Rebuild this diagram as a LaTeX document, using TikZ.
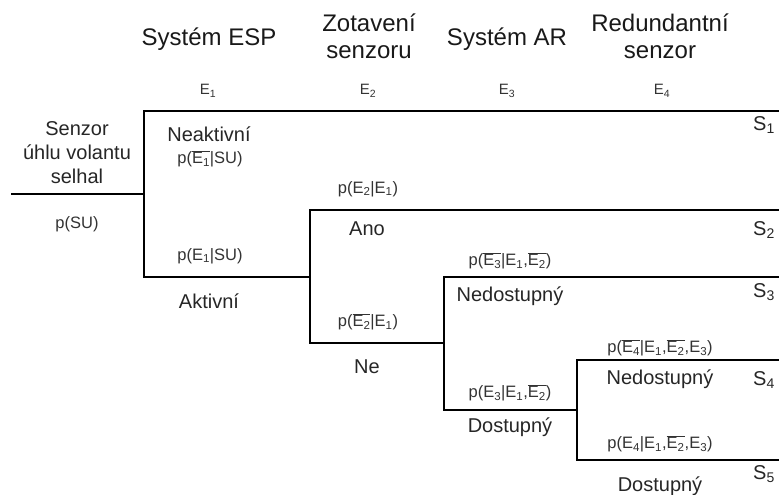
\documentclass[tikz,border=0pt]{standalone}
\usepackage{fontspec}
\setmainfont{Liberation Sans}
\newcommand\hdrf{\fontsize{24}{27}\selectfont}
\newcommand\bdyf{\fontsize{20}{24}\selectfont}
\newcommand\prbf{\fontsize{16.5}{20}\selectfont}
\newcommand\elbf{\fontsize{15}{18}\selectfont}
\newcommand\ovl[1]{\ensuremath{\overline{\hbox{#1}}}}
\newcommand\sub[1]{\textsubscript{#1}}
\begin{document}
\begin{tikzpicture}[x=1pt,y=-1pt,
  branch/.style={line width=1.3pt,line join=miter},
  hdr/.style={inner sep=0pt,align=center,font=\hdrf,text=black!90},
  bdy/.style={inner sep=0pt,align=center,font=\bdyf,text=black!85},
  prb/.style={inner sep=0pt,font=\prbf,text=black!80},
  elb/.style={inner sep=0pt,font=\elbf,text=black!80},
  send/.style={inner sep=0pt,font=\bdyf,text=black!85}]
\useasboundingbox (0,0) rectangle (779,495);
% tree coordinates
\coordinate (s0) at (11,194);
\coordinate (j1) at (144,194);
\coordinate (j1t) at (144,111);
\coordinate (j1b) at (144,277);
\coordinate (j2t) at (310,210);
\coordinate (j2b) at (310,343);
\coordinate (j3t) at (444,277);
\coordinate (j3b) at (444,410);
\coordinate (j4t) at (577,360);
\coordinate (j4b) at (577,460);
\coordinate (end1) at (779,111);
\coordinate (end2) at (779,210);
\coordinate (end3) at (779,277);
\coordinate (end4) at (779,360);
\coordinate (end5) at (779,460);
\coordinate (j2) at (310,277);
\coordinate (j3) at (444,343);
\coordinate (j4) at (577,410);
% branches
\draw[branch] (s0) -- (j1);
\draw[branch] (end1) -- (j1t) -- (j1b) -- (j2);
\draw[branch] (end2) -- (j2t) -- (j2b) -- (j3);
\draw[branch] (end3) -- (j3t) -- (j3b) -- (j4);
\draw[branch] (end4) -- (j4t) -- (j4b) -- (end5);
% headers
\node[hdr] (h1) at (209,39) {Systém ESP};
\node[hdr] (h2) at (369,36) {Zotavení\\senzoru};
\node[hdr] (h3) at (507,39) {Systém AR};
\node[hdr] (h4) at (660,36) {Redundantní\\senzor};
% event labels
\node[elb,anchor=base] (e1) at (208,95) {E\sub{1}};
\node[elb,anchor=base] (e2) at (368,95) {E\sub{2}};
\node[elb,anchor=base] (e3) at (507,95) {E\sub{3}};
\node[elb,anchor=base] (e4) at (662,95) {E\sub{4}};
% root
\node[bdy,font=\fontsize{20}{24}\selectfont] (root) at (77,153) {Senzor\\úhlu volantu\\selhal};
\node[prb] (psu) at (77,224) {p(SU)};
% E1
\node[bdy] (neak) at (209,134) {Neaktivní};
\node[prb] (pne1) at (210,159) {p(\ovl{E\sub{1}}|SU)};
\node[prb] (pe1) at (210,256) {p(E\sub{1}|SU)};
\node[bdy] (akt) at (209,301) {Aktivní};
% E2
\node[prb] (pe2) at (368,189) {p(E\sub{2}|E\sub{1})};
\node[bdy] (ano) at (367,229) {Ano};
\node[prb] (pne2) at (368,322) {p(\ovl{E\sub{2}}|E\sub{1})};
\node[bdy] (ne) at (367,367) {Ne};
% E3
\node[prb] (pne3) at (510,261) {p(\ovl{E\sub{3}}|E\sub{1},\ovl{E\sub{2}})};
\node[bdy] (ned3) at (510,296) {Nedostupný};
\node[prb] (pe3) at (510,393) {p(E\sub{3}|E\sub{1},\ovl{E\sub{2}})};
\node[bdy] (dos3) at (510,427) {Dostupný};
% E4
\node[prb] (pne4) at (660,348) {p(\ovl{E\sub{4}}|E\sub{1},\ovl{E\sub{2}},E\sub{3})};
\node[bdy] (ned4) at (660,379) {Nedostupný};
\node[prb] (pe4) at (660,444) {p(E\sub{4}|E\sub{1},\ovl{E\sub{2}},E\sub{3})};
\node[bdy] (dos4) at (660,486) {Dostupný};
% sequences
\node[send] (sq1) at (764,125) {S\sub{1}};
\node[send] (sq2) at (764,230) {S\sub{2}};
\node[send] (sq3) at (764,292) {S\sub{3}};
\node[send] (sq4) at (764,380) {S\sub{4}};
\node[send] (sq5) at (764,474) {S\sub{5}};
\end{tikzpicture}
\end{document}
